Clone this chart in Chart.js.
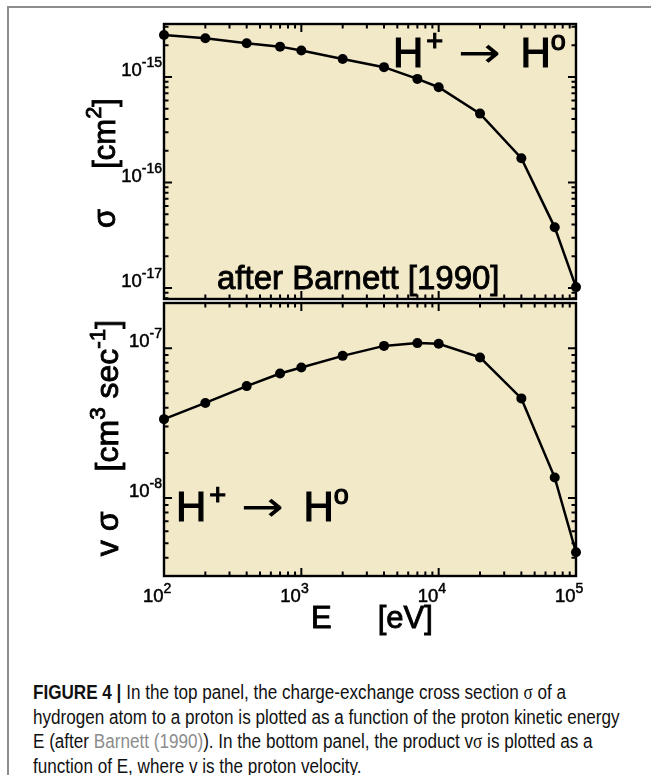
<!DOCTYPE html>
<html>
<head>
<meta charset="utf-8">
<script src="https://cdn.jsdelivr.net/npm/chart.js@4.4.1/dist/chart.umd.min.js"></script>
<style>
  body { margin: 0; background: #fff; }
  #fig { position: relative; width: 651px; height: 775px; overflow: hidden;
         font-family: "Liberation Sans", Arial, Helvetica, sans-serif; color: #000; }
  .frame { position: absolute; left: 7px; top: 6px; width: 700px; height: 800px;
           border-left: 2px solid #8d8d8d; border-top: 2px solid #8d8d8d; }
  canvas { position: absolute; left: 0; top: 0; }
  .lbl { position: absolute; white-space: nowrap; line-height: 1; -webkit-text-stroke: 0.9px #000; }
  .lbl sup { line-height: 0; }
  .tick { font-size: 18.5px; -webkit-text-stroke: 0.5px #000; }
  .tick sup { font-size: 14px; vertical-align: 9px; }
  .reac { font-size: 42px; -webkit-text-stroke: 1.2px #000; }
  .reac sup { font-size: 27px; vertical-align: 17px; }
  .reac sup.plus { font-size: 29px; vertical-align: 16px; margin-left: 3px; }
  .reac .arr { display: inline-block; margin-left: 15px; font-family: "DejaVu Sans", sans-serif;
               font-weight: normal; -webkit-text-stroke: 0; transform: scaleX(1.22); transform-origin: 0 50%; }
  .reac .h2 { margin-left: 27px; }
  .ytitle { transform: translate(-50%, -50%) rotate(-90deg); }
  .ytitle sup { font-size: 0.7em; vertical-align: 0.6em; }
  .caption { position: absolute; left: 33px; top: 680px; margin: 0; white-space: nowrap;
             font-size: 20px; line-height: 24.5px; color: #111;
             transform: scaleX(0.855); transform-origin: 0 0; }
  .caption b { font-weight: bold; }
  .caption .ref { color: #8c8c8c; }
  .caption .gr { font-family: "Liberation Serif", "Times New Roman", serif; }
</style>
</head>
<body>
<div id="fig">
  <div class="frame"></div>
  <canvas id="sigmaChart" width="651" height="640"></canvas>
  <canvas id="rateChart" width="651" height="640"></canvas>
  <p class="caption"><b>FIGURE 4 |</b> In the top panel, the charge-exchange cross section <span class="gr">σ</span> of a<br>hydrogen atom to a proton is plotted as a function of the proton kinetic energy<br>E (after <span class="ref">Barnett (1990)</span>). In the bottom panel, the product v<span class="gr">σ</span> is plotted as a<br>function of E, where v is the proton velocity.</p>
</div>
<script>
// proton energy in eV
const energy = [100, 200, 400, 700, 1000, 2000, 4000, 7000, 10000, 20000, 40000, 70000, 100000];
// charge exchange cross section, cm^2
const crossSection = [2.5e-15, 2.33e-15, 2.09e-15, 1.94e-15, 1.78e-15, 1.48e-15, 1.24e-15, 9.6e-16, 8.0e-16, 4.5e-16, 1.7e-16, 3.76e-17, 1.02e-17];
// v * sigma, cm^3 / sec
const rateCoeff = [3.36e-8, 4.31e-8, 5.58e-8, 6.77e-8, 7.43e-8, 8.88e-8, 1.035e-7, 1.08e-7, 1.07e-7, 8.67e-8, 4.62e-8, 1.37e-8, 4.35e-9];

const xTickExps = [2, 3, 4, 5];
const sigmaTickExps = [-15, -16, -17];
const rateTickExps = [-7, -8];

const plotFill = "#f2e9c9";
const fig = document.getElementById("fig");

// all 1..9 x 10^n steps inside the axis range
function logSteps(min, max) {
  const out = [];
  for (let e = Math.floor(Math.log10(min)); e <= Math.ceil(Math.log10(max)); e++) {
    for (let m = 1; m < 10; m++) {
      const v = m * Math.pow(10, e);
      if (v >= min * 0.999 && v <= max * 1.001) out.push({ v: v, major: m === 1 });
    }
  }
  return out;
}

// beige plot box, black frame and inward ticks on every side
const panelFrame = {
  id: "panelFrame",
  beforeDraw(chart) {
    const { ctx, chartArea: a } = chart;
    ctx.save();
    ctx.fillStyle = plotFill;
    ctx.fillRect(a.left, a.top, a.right - a.left, a.bottom - a.top);
    ctx.restore();
  },
  beforeDatasetsDraw(chart) {
    const { ctx, chartArea: a, scales } = chart;
    ctx.save();
    ctx.strokeStyle = "#000";
    ctx.lineWidth = 2.4;
    ctx.strokeRect(a.left, a.top, a.right - a.left, a.bottom - a.top);
    ctx.lineWidth = 2;
    ctx.beginPath();
    logSteps(scales.x.min, scales.x.max).forEach((t) => {
      const px = scales.x.getPixelForValue(t.v);
      const len = t.major ? 8 : 4.5;
      ctx.moveTo(px, a.bottom); ctx.lineTo(px, a.bottom - len);
      ctx.moveTo(px, a.top); ctx.lineTo(px, a.top + len);
    });
    logSteps(scales.y.min, scales.y.max).forEach((t) => {
      const py = scales.y.getPixelForValue(t.v);
      const len = t.major ? 8 : 4.5;
      ctx.moveTo(a.left, py); ctx.lineTo(a.left + len, py);
      ctx.moveTo(a.right, py); ctx.lineTo(a.right - len, py);
    });
    ctx.stroke();
    ctx.restore();
  },
};

function makePanel(canvasId, values, yMin, yMax, padding) {
  return new Chart(document.getElementById(canvasId), {
    type: "line",
    data: {
      datasets: [{
        data: energy.map((e, i) => ({ x: e, y: values[i] })),
        borderColor: "#000",
        borderWidth: 2.5,
        pointRadius: 5,
        pointBackgroundColor: "#000",
        pointBorderWidth: 0,
        tension: 0,
        clip: false,
      }],
    },
    options: {
      responsive: false,
      animation: false,
      events: [],
      layout: { padding: padding },
      plugins: { legend: { display: false }, tooltip: { enabled: false } },
      scales: {
        x: { type: "logarithmic", min: 100, max: 1e5, display: false },
        y: { type: "logarithmic", min: yMin, max: yMax, display: false },
      },
    },
    plugins: [panelFrame],
  });
}

const sigmaChart = makePanel("sigmaChart", crossSection, 7.87e-18, 3.18e-15,
  { left: 164, right: 75, top: 24, bottom: 341 });
const rateChart = makePanel("rateChart", rateCoeff, 3.02e-9, 2.0e-7,
  { left: 164, right: 75, top: 303, bottom: 64 });

function addLabel(cls, html, style) {
  const d = document.createElement("div");
  d.className = "lbl " + cls;
  d.innerHTML = html;
  Object.assign(d.style, style);
  fig.appendChild(d);
  return d;
}

// y tick labels: baseline sits on the decade tick
function yTickLabels(chart, exps) {
  exps.forEach((p) => {
    const py = chart.scales.y.getPixelForValue(Math.pow(10, p));
    addLabel("tick", "10<sup>" + p + "</sup>", {
      right: (651 - chart.chartArea.left + 2) + "px",
      top: (py - 16) + "px",
    });
  });
}
yTickLabels(sigmaChart, sigmaTickExps);
yTickLabels(rateChart, rateTickExps);

xTickExps.forEach((p) => {
  const px = rateChart.scales.x.getPixelForValue(Math.pow(10, p));
  addLabel("tick", "10<sup>" + p + "</sup>", {
    left: (px - 21) + "px",
    top: (rateChart.chartArea.bottom + 11) + "px",
  });
});

// axis titles
addLabel("ytitle", 'σ<span style="margin-left:40px">[cm<sup>2</sup>]</span>',
  { left: "104px", top: "163px", fontSize: "31px" });
addLabel("ytitle", 'v<span style="margin-left:9px">σ</span><span style="margin-left:40px">[cm<sup>3</sup> sec<sup>-1</sup>]</span>',
  { left: "107px", top: "438px", fontSize: "32px" });
addLabel("xtitle", 'E<span style="margin-left:46px">[eV]</span>',
  { left: "311px", top: "602px", fontSize: "31px" });

// panel annotations
const reaction = 'H<sup class="plus">+</sup><span class="arr">→</span><span class="h2">H</span><sup>o</sup>';
addLabel("reac", reaction, { left: "393px", top: "32px" });
addLabel("reac", reaction, { left: "176px", top: "486px" });
addLabel("note", "after Barnett [1990]", { left: "217px", top: "261px", fontSize: "33px" });
</script>
</body>
</html>
